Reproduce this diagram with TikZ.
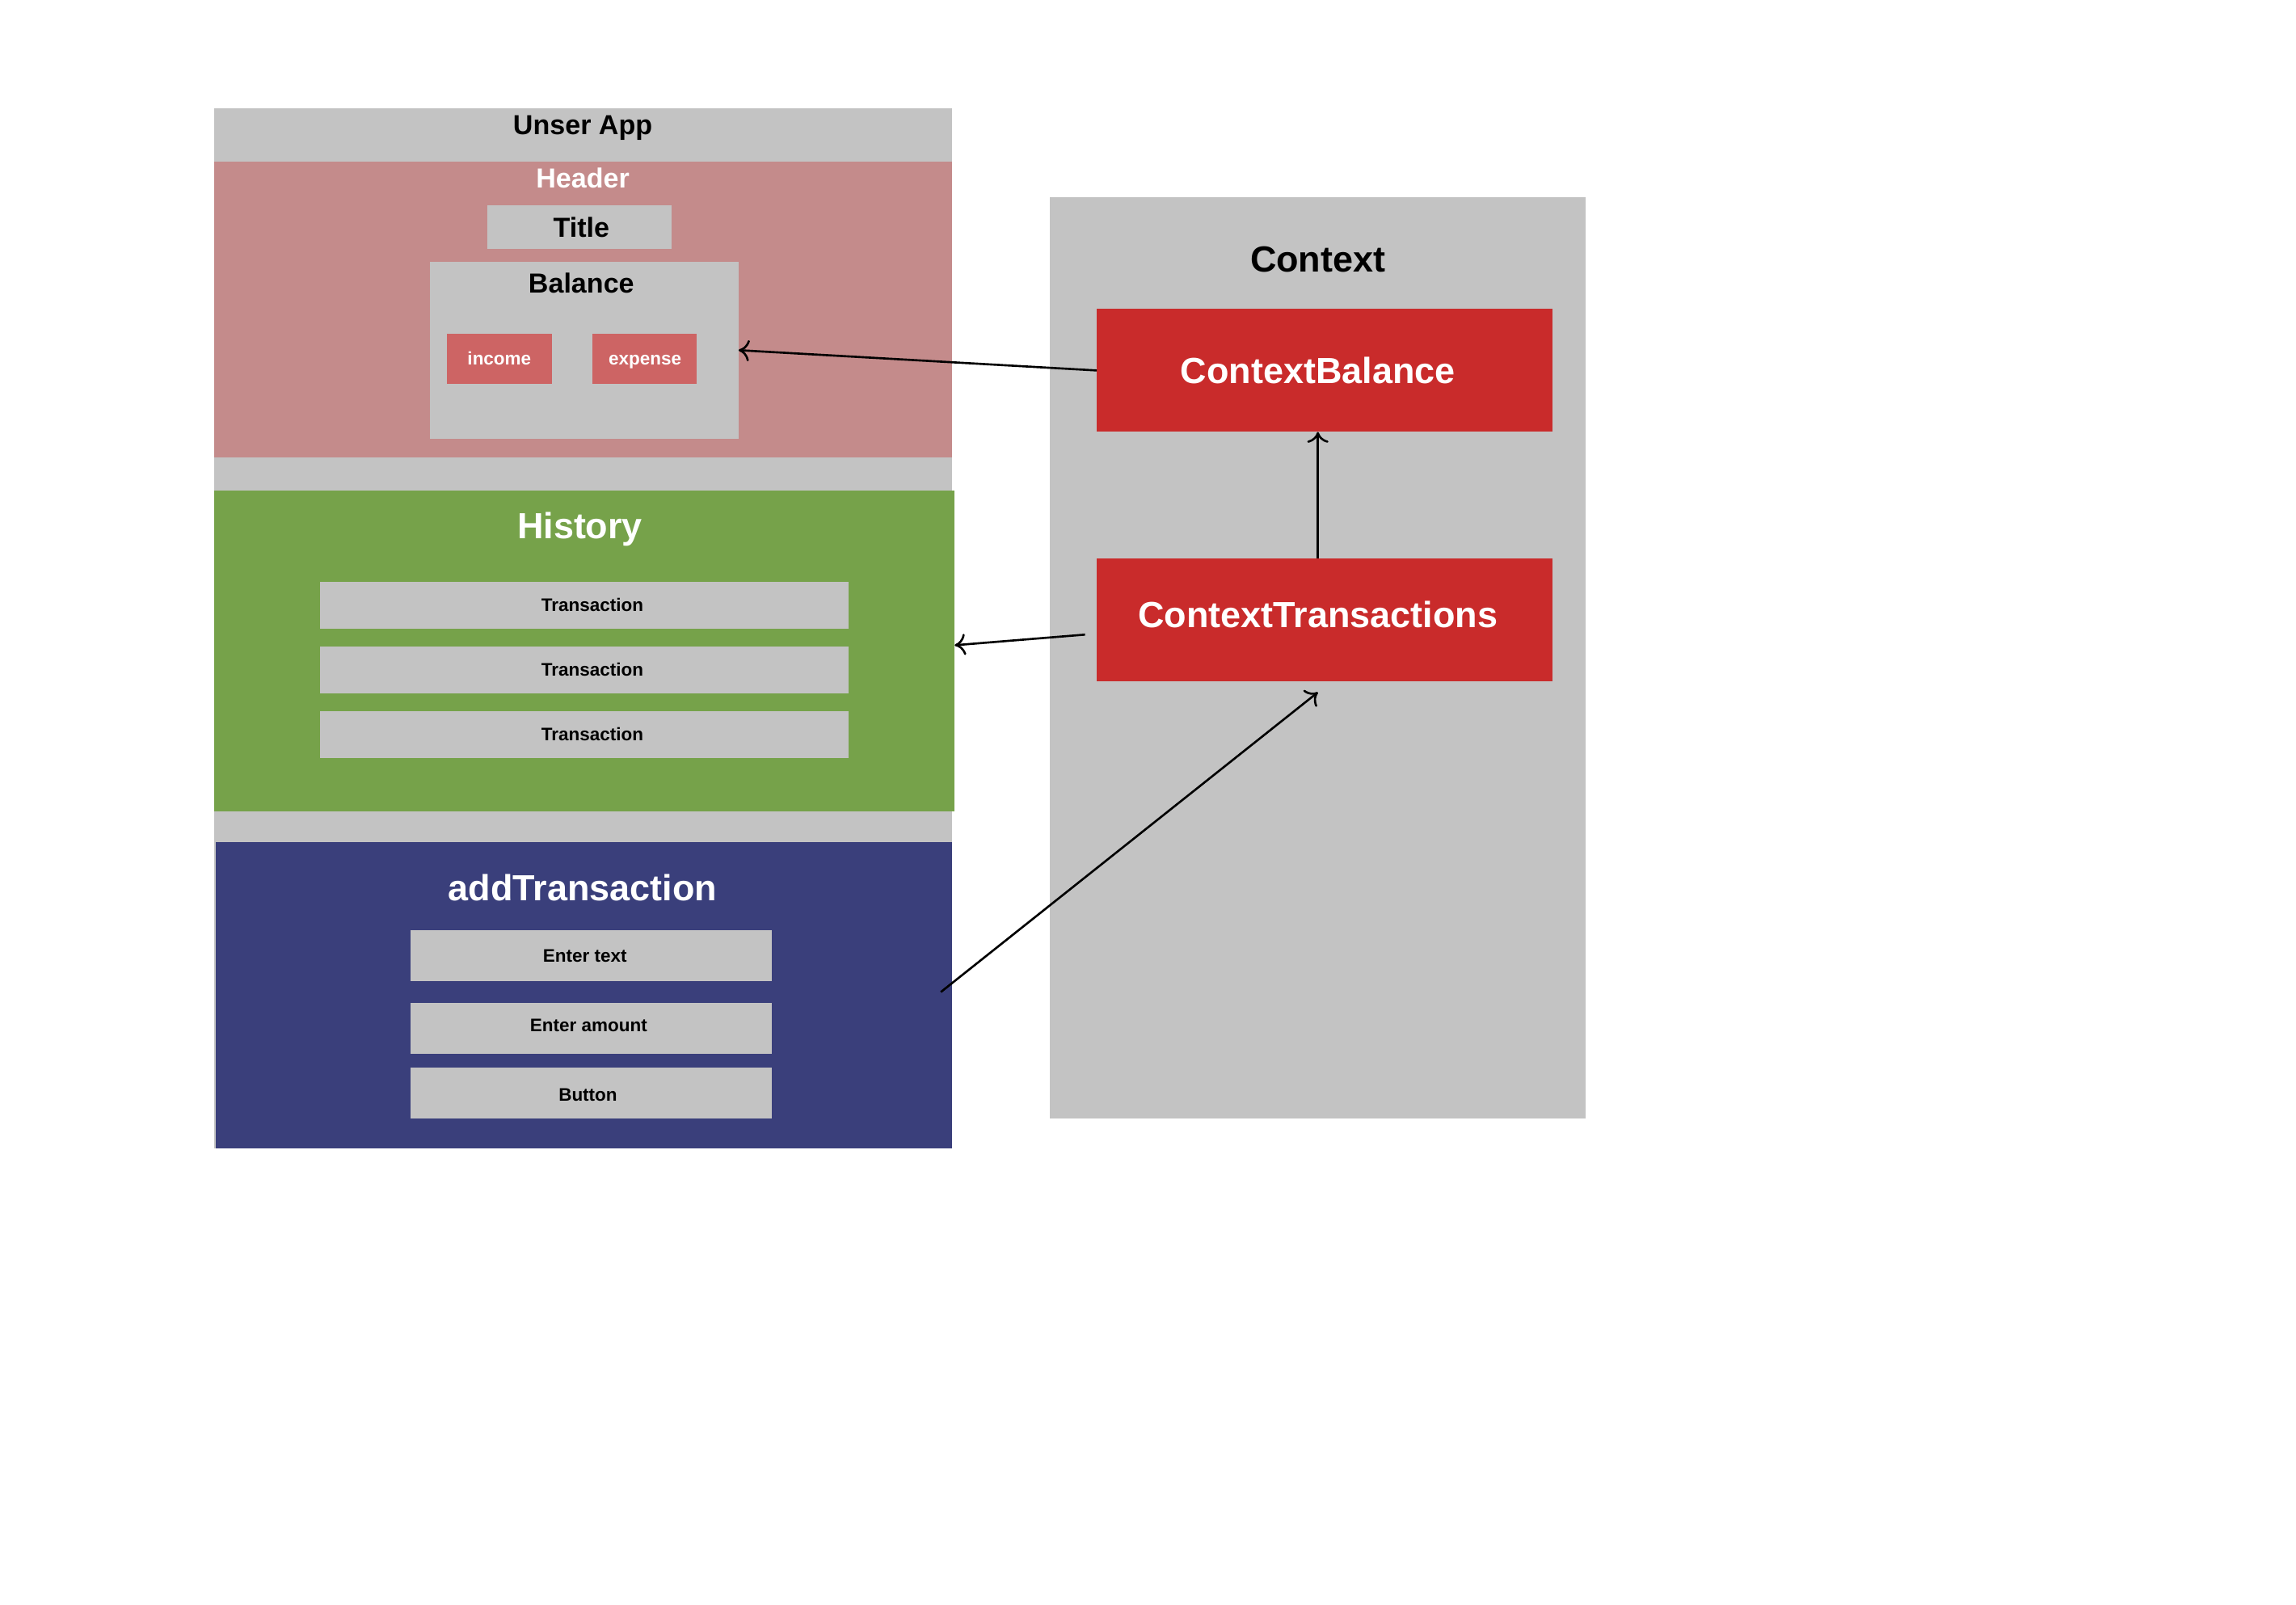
\documentclass[tikz,border=0pt]{standalone}
\usepackage{fontspec}
\setmainfont{Liberation Sans}
\usetikzlibrary{fit,calc,arrows.meta}

\definecolor{boxgray}{HTML}{C3C3C3}
\definecolor{headerpink}{HTML}{C48B8B}
\definecolor{chipred}{HTML}{CD6464}
\definecolor{histgreen}{HTML}{76A24A}
\definecolor{addblue}{HTML}{3A3F7B}
\definecolor{ctxred}{HTML}{C92B2B}

\tikzset{
  panel/.style={inner sep=0pt, outer sep=0pt, draw=none, fill=#1},
  bigtext/.style={font=\fontsize{12.8pt}{15pt}\selectfont\bfseries},
  midtext/.style={font=\fontsize{9.7pt}{12pt}\selectfont\bfseries},
  smalltext/.style={font=\fontsize{6.4pt}{8pt}\selectfont\bfseries},
  link/.style={line width=0.75pt, black, -{To[length=3.8pt,width=7.5pt]}},
}

\begin{document}
\begin{tikzpicture}[x=0.01812cm, y=-0.01812cm]
  \useasboundingbox (0,0) rectangle (1568,1096);

  % application frame
  \node[panel=boxgray, fit={(146,74) (650,784)}] (app) {};
  \node[midtext, text=black] (applbl) at (398,87.5) {Unser App};

  % header with title and balance
  \node[panel=headerpink, fit={(146,110.4) (650,312.2)}] (header) {};
  \node[midtext, text=white] (headerlbl) at (398,121.8) {Header};
  \node[panel=boxgray, fit={(333,140) (458.5,170)}] (title) {};
  \node[midtext, text=black] (titlelbl) at (397,155) {Title};
  \node[panel=boxgray, fit={(293.6,178.8) (504.4,299.5)}] (balance) {};
  \node[midtext, text=black] (balancelbl) at (397,193.5) {Balance};
  \node[panel=chipred, fit={(305,228) (377,262)}] (income) {};
  \node[smalltext, text=white] (incomelbl) at (341,245) {income};
  \node[panel=chipred, fit={(404.5,228) (476,262)}] (expense) {};
  \node[smalltext, text=white] (expenselbl) at (440.5,247.2) {expense};

  % transaction history
  \node[panel=histgreen, fit={(146,335) (652,554.3)}] (history) {};
  \node[bigtext, text=white] (historylbl) at (396,361.5) {History};
  \foreach \i/\t/\b in {1/397.4/429.2, 2/441.5/473.3, 3/485.7/517.5}{
    \node[panel=boxgray, fit={(218.6,\t) (579.5,\b)}] (tx\i) {};
    \node[smalltext, text=black] (tx\i lbl) at (404.5,{(\t+\b)/2}) {Transaction};
  }

  % form for new transactions
  \node[panel=addblue, fit={(147.4,575) (650,784)}] (add) {};
  \node[bigtext, text=white] (addlbl) at (398,606.5) {addTransaction};
  \node[panel=boxgray, fit={(280.4,635.2) (527,669.8)}] (entertext) {};
  \node[smalltext, text=black] (entertextlbl) at (399.5,652.8) {Enter text};
  \node[panel=boxgray, fit={(280.4,684.9) (527,719.5)}] (enteramount) {};
  \node[smalltext, text=black] (enteramountlbl) at (402,700.5) {Enter amount};
  \node[panel=boxgray, fit={(280.4,729) (527,763.7)}] (button) {};
  \node[smalltext, text=black] (buttonlbl) at (401.5,747.5) {Button};

  % context providers
  \node[panel=boxgray, fit={(716.8,134.8) (1082.6,763.7)}] (context) {};
  \node[bigtext, text=black] (contextlbl) at (900,177) {Context};
  \node[panel=ctxred, fit={(749,211) (1060,295)}] (cb) {};
  \node[bigtext, text=white] (cblbl) at (900,253) {ContextBalance};
  \node[panel=ctxred, fit={(749,381.5) (1060,465.3)}] (ct) {};
  \node[bigtext, text=white] (ctlbl) at (900,419.5) {ContextTransactions};

  % data flow
  \draw[link] (cb.west) -- (balance.east);
  \draw[link] ($(ct.north)+(-4.5,0)$) -- ($(cb.south)+(-4.5,0)$);
  \draw[link] ($(ct.west)+(-8,10)$) -- ($(history.east)+(0,-4)$);
  \draw[link] ($(add.east)+(-7.5,-2)$) -- ($(ct.south)+(-4.5,7.5)$);
\end{tikzpicture}
\end{document}
